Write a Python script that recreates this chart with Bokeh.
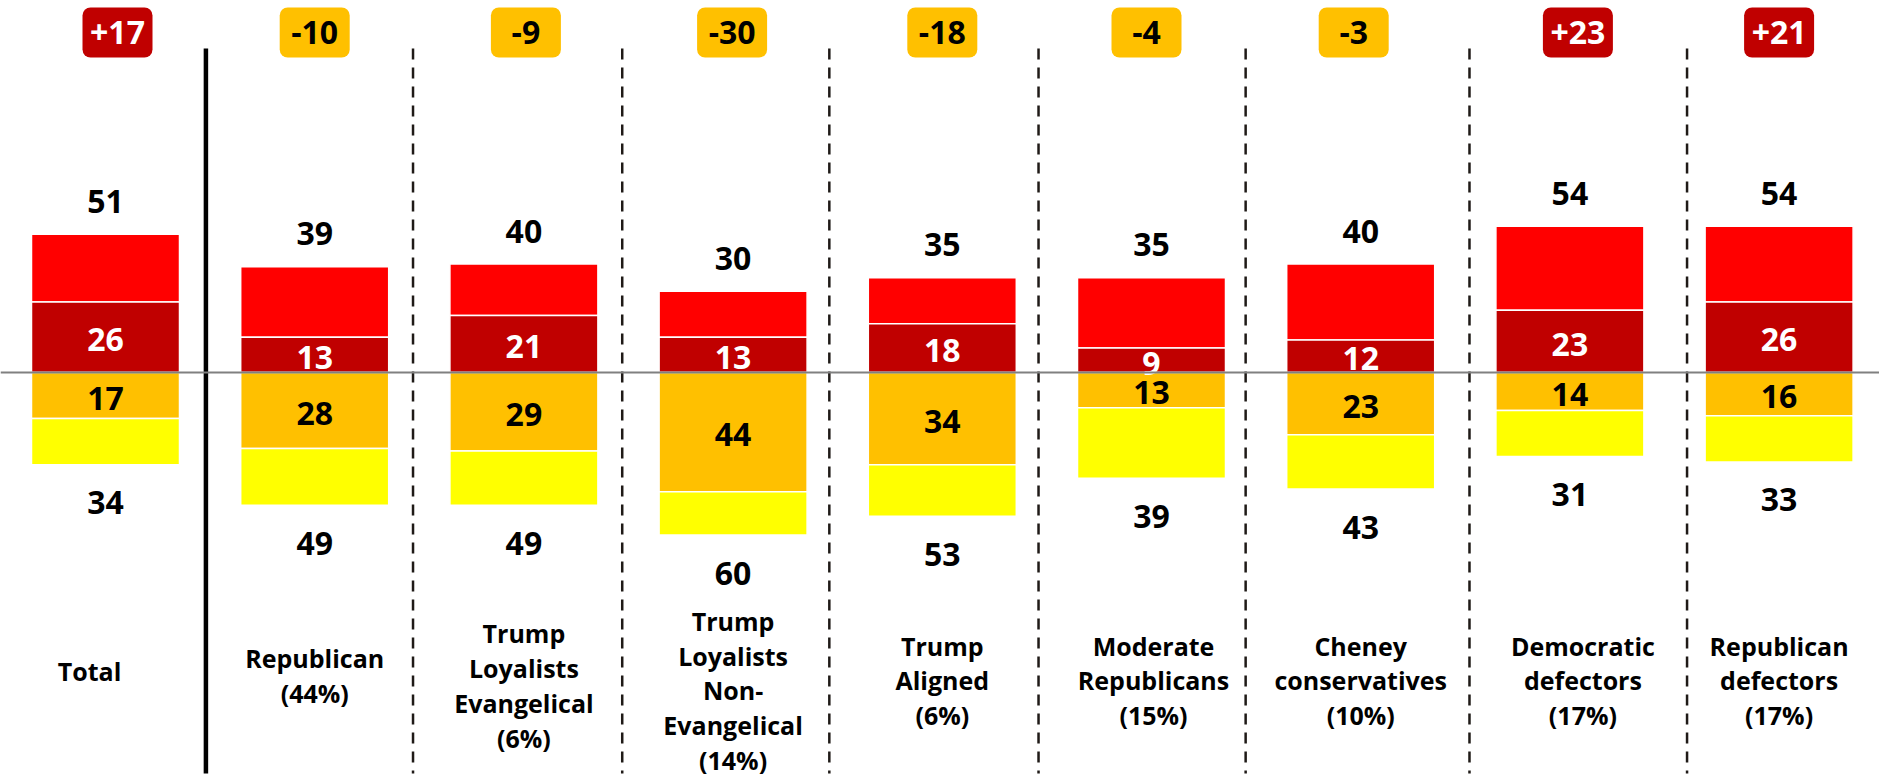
from bokeh.plotting import figure
from bokeh.models import ColumnDataSource, Range1d, Span
from bokeh.core.properties import value
from bokeh.embed import file_html
from bokeh.resources import INLINE

# ---- data ----
categories = ["Total", "Republican", "Trump Loyalists Evangelical",
              "Trump Loyalists Non-Evangelical", "Trump Aligned",
              "Moderate Republicans", "Cheney conservatives",
              "Democratic defectors", "Republican defectors"]
labels = ["Total", "Republican\n(44%)", "Trump\nLoyalists\nEvangelical\n(6%)",
          "Trump\nLoyalists\nNon-\nEvangelical\n(14%)", "Trump\nAligned\n(6%)",
          "Moderate\nRepublicans\n(15%)", "Cheney\nconservatives\n(10%)",
          "Democratic\ndefectors\n(17%)", "Republican\ndefectors\n(17%)"]
top_total = [51, 39, 40, 30, 35, 35, 40, 54, 54]
top_strong = [26, 13, 21, 13, 18, 9, 12, 23, 26]
bottom_somewhat = [17, 28, 29, 44, 34, 13, 23, 14, 16]
bottom_total = [34, 49, 49, 60, 53, 39, 43, 31, 33]

# ---- style / layout ----
RED, DARK, ORANGE, YELLOW = "#FF0000", "#C00000", "#FFC000", "#FFFF00"
FONT = value("Open Sans")
W, H = 1879, 780
PX_X = 209.2          # px per category
PX_Y = 2.71           # px per percentage point
X0 = 105              # px of first bar centre
Y0 = 372              # px of zero line
sep_pos = [0.48, 1.47, 2.47, 3.46, 4.46, 5.45, 6.52, 7.56]
badge_dx = [12, 0, 2, -1, 0, -5, -7, 8, 0]      # px nudges of the badges
label_dx = [-16, 0, 0, 0, 0, 2, 0, 13, 0]       # px nudges of category labels

xs = list(range(len(categories)))
net = [t - b for t, b in zip(top_total, bottom_total)]

p = figure(width=W, height=H, output_backend="svg", toolbar_location=None,
           x_range=Range1d(-X0 / PX_X, (W - X0) / PX_X),
           y_range=Range1d(-(H - Y0) / PX_Y, Y0 / PX_Y),
           min_border=0)
p.axis.visible = False
p.grid.visible = False
p.outline_line_color = None
p.background_fill_color = "white"

bw = 148 / PX_X
src = ColumnDataSource(dict(
    x=xs,
    tt=top_total, ts=top_strong,
    bs=[-v for v in bottom_somewhat], bt=[-v for v in bottom_total],
))
p.vbar(x="x", width=bw, top="tt", bottom="ts", source=src,
       fill_color=RED, line_color="white", line_width=1.5)
p.vbar(x="x", width=bw, top="ts", bottom=0, source=src,
       fill_color=DARK, line_color="white", line_width=1.5)
p.vbar(x="x", width=bw, top=0, bottom="bs", source=src,
       fill_color=ORANGE, line_color="white", line_width=1.5)
p.vbar(x="x", width=bw, top="bs", bottom="bt", source=src,
       fill_color=YELLOW, line_color="white", line_width=1.5)

# separators
sep_top = (Y0 - 48) / PX_Y
sep_bot = -(773 - Y0) / PX_Y
p.segment(x0=[sep_pos[0]], x1=[sep_pos[0]], y0=[sep_top], y1=[sep_bot],
          line_color="black", line_width=4.5)
p.segment(x0=sep_pos[1:], x1=sep_pos[1:], y0=[sep_top] * 7, y1=[sep_bot] * 7,
          line_color="#1f1a17", line_width=2.5, line_dash="11 8")

# zero line
p.add_layout(Span(location=0, dimension="width", line_color="#808080",
                  line_width=2))

# badges
bsrc = ColumnDataSource(dict(
    x=[i + d / PX_X for i, d in zip(xs, badge_dx)],
    txt=[("+%d" % v) if v > 0 else str(v) for v in net],
    fill=[DARK if v > 0 else ORANGE for v in net],
    tc=["white" if v > 0 else "black" for v in net],
))
b_top = (Y0 - 7) / PX_Y
b_bot = (Y0 - 57) / PX_Y
p.vbar(x="x", width=70 / PX_X, top=b_top, bottom=b_bot, source=bsrc,
       fill_color="fill", line_color=None, border_radius=8)
p.text(x="x", y=(b_top + b_bot) / 2, text="txt", source=bsrc,
       text_color="tc", text_font=FONT, text_font_style="bold",
       text_font_size="32px", text_align="center", text_baseline="middle")

# number labels
nsrc = ColumnDataSource(dict(
    x=xs,
    ty=[v + 33 / PX_Y for v in top_total], tt=[str(v) for v in top_total],
    by=[-v - 38 / PX_Y for v in bottom_total], bt=[str(v) for v in bottom_total],
    sy=[v / 2 - 1 for v in top_strong], st=[str(v) for v in top_strong],
    oy=[-v / 2 - 1 for v in bottom_somewhat], ot=[str(v) for v in bottom_somewhat],
))
common = dict(text_font=FONT, text_font_style="bold", text_font_size="32px",
              text_align="center", text_baseline="middle", source=nsrc)
p.text(x="x", y="ty", text="tt", text_color="black", **common)
p.text(x="x", y="by", text="bt", text_color="black", **common)
p.text(x="x", y="sy", text="st", text_color="white", **common)
p.text(x="x", y="oy", text="ot", text_color="black", **common)

# category labels
nlines = [len(l.split("\n")) for l in labels]
csrc = ColumnDataSource(dict(
    x=[i + d / PX_X for i, d in zip(xs, label_dx)], t=labels,
    y=[(Y0 - (665 + 5 * n)) / PX_Y for n in nlines],
))
p.text(x="x", y="y", text="t", source=csrc, text_color="black",
       text_font=FONT, text_font_style="bold", text_font_size="25px",
       text_align="center", text_baseline="middle", text_line_height=1.02)

open("out.html", "w").write(file_html(p, INLINE))
